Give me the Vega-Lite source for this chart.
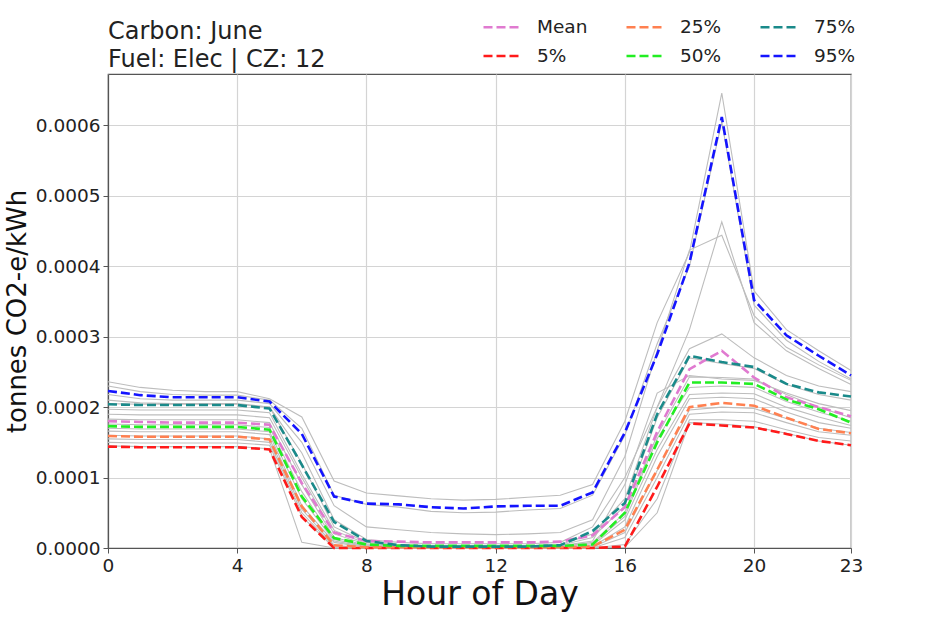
{
  "$schema": "https://vega.github.io/schema/vega-lite/v6.json",
  "autosize": {"type": "none"},
  "width": 743,
  "height": 474,
  "padding": {"left": 108, "top": 74, "right": 97, "bottom": 70},
  "background": "white",
  "config": {
    "font": "DejaVu Sans",
    "view": {"stroke": "#555555", "strokeWidth": 1.2},
    "axis": {"grid": true, "gridColor": "#d4d4d4", "gridWidth": 1.2, "domainColor": "#555555", "domainWidth": 1.2, "tickColor": "#555555", "tickSize": 5, "labelFont": "DejaVu Sans", "labelFontSize": 18.5, "labelColor": "#222222", "titleFont": "DejaVu Sans", "titleFontWeight": "normal", "titleColor": "#111111"}
  },
  "title": {"text": ["Carbon: June", "Fuel: Elec | CZ: 12"], "anchor": "start", "frame": "group", "fontSize": 24, "lineHeight": 28, "fontWeight": "normal", "font": "DejaVu Sans", "color": "#222222", "offset": 4, "dy": 68},
  "datasets": {
    "days": [
      {"d":"G1","h":0,"v":0.000236},{"d":"G1","h":1,"v":0.000228},{"d":"G1","h":2,"v":0.000224},{"d":"G1","h":3,"v":0.000222},{"d":"G1","h":4,"v":0.000222},{"d":"G1","h":5,"v":0.000212},{"d":"G1","h":6,"v":0.000186},{"d":"G1","h":7,"v":0.000095},{"d":"G1","h":8,"v":0.000078},{"d":"G1","h":9,"v":0.000074},{"d":"G1","h":10,"v":0.00007},{"d":"G1","h":11,"v":0.000068},{"d":"G1","h":12,"v":0.000069},{"d":"G1","h":13,"v":0.000072},{"d":"G1","h":14,"v":0.000075},{"d":"G1","h":15,"v":0.00009},{"d":"G1","h":16,"v":0.00018},{"d":"G1","h":17,"v":0.00032},{"d":"G1","h":18,"v":0.00042},{"d":"G1","h":19,"v":0.000646},{"d":"G1","h":20,"v":0.000365},{"d":"G1","h":21,"v":0.00031},{"d":"G1","h":22,"v":0.00028},{"d":"G1","h":23,"v":0.000252},
      {"d":"G2","h":0,"v":0.00023},{"d":"G2","h":1,"v":0.000222},{"d":"G2","h":2,"v":0.000218},{"d":"G2","h":3,"v":0.000217},{"d":"G2","h":4,"v":0.000217},{"d":"G2","h":5,"v":0.00021},{"d":"G2","h":6,"v":0.00017},{"d":"G2","h":7,"v":0.000075},{"d":"G2","h":8,"v":0.000062},{"d":"G2","h":9,"v":0.000058},{"d":"G2","h":10,"v":0.000052},{"d":"G2","h":11,"v":0.00005},{"d":"G2","h":12,"v":0.000051},{"d":"G2","h":13,"v":0.000054},{"d":"G2","h":14,"v":0.000056},{"d":"G2","h":15,"v":0.000075},{"d":"G2","h":16,"v":0.00016},{"d":"G2","h":17,"v":0.00029},{"d":"G2","h":18,"v":0.0004},{"d":"G2","h":19,"v":0.000605},{"d":"G2","h":20,"v":0.000345},{"d":"G2","h":21,"v":0.000295},{"d":"G2","h":22,"v":0.000265},{"d":"G2","h":23,"v":0.00024},
      {"d":"G3","h":0,"v":0.000218},{"d":"G3","h":1,"v":0.000212},{"d":"G3","h":2,"v":0.00021},{"d":"G3","h":3,"v":0.00021},{"d":"G3","h":4,"v":0.00021},{"d":"G3","h":5,"v":0.000205},{"d":"G3","h":6,"v":0.00015},{"d":"G3","h":7,"v":0.00006},{"d":"G3","h":8,"v":0.00003},{"d":"G3","h":9,"v":0.000026},{"d":"G3","h":10,"v":0.000022},{"d":"G3","h":11,"v":0.00002},{"d":"G3","h":12,"v":0.000019},{"d":"G3","h":13,"v":0.00002},{"d":"G3","h":14,"v":0.000022},{"d":"G3","h":15,"v":0.00004},{"d":"G3","h":16,"v":0.00013},{"d":"G3","h":17,"v":0.00028},{"d":"G3","h":18,"v":0.000423},{"d":"G3","h":19,"v":0.000444},{"d":"G3","h":20,"v":0.00033},{"d":"G3","h":21,"v":0.000285},{"d":"G3","h":22,"v":0.00026},{"d":"G3","h":23,"v":0.000238},
      {"d":"G4","h":0,"v":0.00021},{"d":"G4","h":1,"v":0.000206},{"d":"G4","h":2,"v":0.000205},{"d":"G4","h":3,"v":0.000205},{"d":"G4","h":4,"v":0.000205},{"d":"G4","h":5,"v":0.0002},{"d":"G4","h":6,"v":0.000135},{"d":"G4","h":7,"v":0.00004},{"d":"G4","h":8,"v":0.000012},{"d":"G4","h":9,"v":0.000008},{"d":"G4","h":10,"v":0.000006},{"d":"G4","h":11,"v":0.000006},{"d":"G4","h":12,"v":0.000006},{"d":"G4","h":13,"v":0.000006},{"d":"G4","h":14,"v":0.000008},{"d":"G4","h":15,"v":0.00003},{"d":"G4","h":16,"v":0.0001},{"d":"G4","h":17,"v":0.0002},{"d":"G4","h":18,"v":0.00031},{"d":"G4","h":19,"v":0.000463},{"d":"G4","h":20,"v":0.00032},{"d":"G4","h":21,"v":0.00028},{"d":"G4","h":22,"v":0.000255},{"d":"G4","h":23,"v":0.000232},
      {"d":"G5","h":0,"v":0.000205},{"d":"G5","h":1,"v":0.000204},{"d":"G5","h":2,"v":0.000204},{"d":"G5","h":3,"v":0.000204},{"d":"G5","h":4,"v":0.000204},{"d":"G5","h":5,"v":0.0002},{"d":"G5","h":6,"v":0.00012},{"d":"G5","h":7,"v":0.00003},{"d":"G5","h":8,"v":0.000008},{"d":"G5","h":9,"v":0.000005},{"d":"G5","h":10,"v":0.000003},{"d":"G5","h":11,"v":0.000003},{"d":"G5","h":12,"v":0.000003},{"d":"G5","h":13,"v":0.000003},{"d":"G5","h":14,"v":0.000005},{"d":"G5","h":15,"v":0.00002},{"d":"G5","h":16,"v":0.00007},{"d":"G5","h":17,"v":0.0002},{"d":"G5","h":18,"v":0.000283},{"d":"G5","h":19,"v":0.000304},{"d":"G5","h":20,"v":0.00027},{"d":"G5","h":21,"v":0.000245},{"d":"G5","h":22,"v":0.00023},{"d":"G5","h":23,"v":0.000222},
      {"d":"G6","h":0,"v":0.000197},{"d":"G6","h":1,"v":0.000196},{"d":"G6","h":2,"v":0.000196},{"d":"G6","h":3,"v":0.000196},{"d":"G6","h":4,"v":0.000196},{"d":"G6","h":5,"v":0.000192},{"d":"G6","h":6,"v":0.000105},{"d":"G6","h":7,"v":0.000025},{"d":"G6","h":8,"v":0.000006},{"d":"G6","h":9,"v":0.000004},{"d":"G6","h":10,"v":0.000003},{"d":"G6","h":11,"v":0.000003},{"d":"G6","h":12,"v":0.000003},{"d":"G6","h":13,"v":0.000003},{"d":"G6","h":14,"v":0.000004},{"d":"G6","h":15,"v":0.000015},{"d":"G6","h":16,"v":0.00006},{"d":"G6","h":17,"v":0.000185},{"d":"G6","h":18,"v":0.00027},{"d":"G6","h":19,"v":0.000262},{"d":"G6","h":20,"v":0.000255},{"d":"G6","h":21,"v":0.000232},{"d":"G6","h":22,"v":0.000218},{"d":"G6","h":23,"v":0.00021},
      {"d":"G7","h":0,"v":0.00019},{"d":"G7","h":1,"v":0.000189},{"d":"G7","h":2,"v":0.000189},{"d":"G7","h":3,"v":0.000189},{"d":"G7","h":4,"v":0.000189},{"d":"G7","h":5,"v":0.000185},{"d":"G7","h":6,"v":0.0001},{"d":"G7","h":7,"v":0.00002},{"d":"G7","h":8,"v":0.000005},{"d":"G7","h":9,"v":0.000003},{"d":"G7","h":10,"v":0.000002},{"d":"G7","h":11,"v":0.000002},{"d":"G7","h":12,"v":0.000002},{"d":"G7","h":13,"v":0.000002},{"d":"G7","h":14,"v":0.000003},{"d":"G7","h":15,"v":0.00001},{"d":"G7","h":16,"v":0.00009},{"d":"G7","h":17,"v":0.00022},{"d":"G7","h":18,"v":0.000245},{"d":"G7","h":19,"v":0.00024},{"d":"G7","h":20,"v":0.000238},{"d":"G7","h":21,"v":0.00022},{"d":"G7","h":22,"v":0.000205},{"d":"G7","h":23,"v":0.000195},
      {"d":"G8","h":0,"v":0.000183},{"d":"G8","h":1,"v":0.000182},{"d":"G8","h":2,"v":0.000182},{"d":"G8","h":3,"v":0.000182},{"d":"G8","h":4,"v":0.000182},{"d":"G8","h":5,"v":0.000178},{"d":"G8","h":6,"v":0.00009},{"d":"G8","h":7,"v":0.000015},{"d":"G8","h":8,"v":0.000004},{"d":"G8","h":9,"v":0.000002},{"d":"G8","h":10,"v":0.000002},{"d":"G8","h":11,"v":0.000002},{"d":"G8","h":12,"v":0.000002},{"d":"G8","h":13,"v":0.000002},{"d":"G8","h":14,"v":0.000002},{"d":"G8","h":15,"v":0.000008},{"d":"G8","h":16,"v":0.00005},{"d":"G8","h":17,"v":0.00016},{"d":"G8","h":18,"v":0.000243},{"d":"G8","h":19,"v":0.000242},{"d":"G8","h":20,"v":0.00024},{"d":"G8","h":21,"v":0.000218},{"d":"G8","h":22,"v":0.0002},{"d":"G8","h":23,"v":0.000185},
      {"d":"G9","h":0,"v":0.000176},{"d":"G9","h":1,"v":0.000175},{"d":"G9","h":2,"v":0.000175},{"d":"G9","h":3,"v":0.000175},{"d":"G9","h":4,"v":0.000175},{"d":"G9","h":5,"v":0.000171},{"d":"G9","h":6,"v":0.00008},{"d":"G9","h":7,"v":0.000012},{"d":"G9","h":8,"v":0.000003},{"d":"G9","h":9,"v":0.000002},{"d":"G9","h":10,"v":0.000001},{"d":"G9","h":11,"v":0.000001},{"d":"G9","h":12,"v":0.000001},{"d":"G9","h":13,"v":0.000001},{"d":"G9","h":14,"v":0.000002},{"d":"G9","h":15,"v":0.000006},{"d":"G9","h":16,"v":0.000045},{"d":"G9","h":17,"v":0.000155},{"d":"G9","h":18,"v":0.000228},{"d":"G9","h":19,"v":0.00023},{"d":"G9","h":20,"v":0.000228},{"d":"G9","h":21,"v":0.000208},{"d":"G9","h":22,"v":0.000193},{"d":"G9","h":23,"v":0.00018},
      {"d":"G10","h":0,"v":0.00017},{"d":"G10","h":1,"v":0.000169},{"d":"G10","h":2,"v":0.000169},{"d":"G10","h":3,"v":0.000169},{"d":"G10","h":4,"v":0.000169},{"d":"G10","h":5,"v":0.000165},{"d":"G10","h":6,"v":0.00007},{"d":"G10","h":7,"v":0.00001},{"d":"G10","h":8,"v":0.000002},{"d":"G10","h":9,"v":0.000001},{"d":"G10","h":10,"v":0.000001},{"d":"G10","h":11,"v":0.000001},{"d":"G10","h":12,"v":0.000001},{"d":"G10","h":13,"v":0.000001},{"d":"G10","h":14,"v":0.000001},{"d":"G10","h":15,"v":0.000004},{"d":"G10","h":16,"v":0.00004},{"d":"G10","h":17,"v":0.00014},{"d":"G10","h":18,"v":0.000218},{"d":"G10","h":19,"v":0.00022},{"d":"G10","h":20,"v":0.000219},{"d":"G10","h":21,"v":0.0002},{"d":"G10","h":22,"v":0.000186},{"d":"G10","h":23,"v":0.000174},
      {"d":"G11","h":0,"v":0.000166},{"d":"G11","h":1,"v":0.000165},{"d":"G11","h":2,"v":0.000165},{"d":"G11","h":3,"v":0.000165},{"d":"G11","h":4,"v":0.000165},{"d":"G11","h":5,"v":0.000161},{"d":"G11","h":6,"v":0.00006},{"d":"G11","h":7,"v":0.000008},{"d":"G11","h":8,"v":0.000001},{"d":"G11","h":9,"v":0},{"d":"G11","h":10,"v":0},{"d":"G11","h":11,"v":0},{"d":"G11","h":12,"v":0},{"d":"G11","h":13,"v":0},{"d":"G11","h":14,"v":0},{"d":"G11","h":15,"v":0.000002},{"d":"G11","h":16,"v":0.00003},{"d":"G11","h":17,"v":0.00013},{"d":"G11","h":18,"v":0.000212},{"d":"G11","h":19,"v":0.000214},{"d":"G11","h":20,"v":0.000212},{"d":"G11","h":21,"v":0.000193},{"d":"G11","h":22,"v":0.000178},{"d":"G11","h":23,"v":0.00017},
      {"d":"G12","h":0,"v":0.00016},{"d":"G12","h":1,"v":0.000159},{"d":"G12","h":2,"v":0.000159},{"d":"G12","h":3,"v":0.000159},{"d":"G12","h":4,"v":0.000159},{"d":"G12","h":5,"v":0.000155},{"d":"G12","h":6,"v":0.000055},{"d":"G12","h":7,"v":0.000004},{"d":"G12","h":8,"v":0},{"d":"G12","h":9,"v":0},{"d":"G12","h":10,"v":0},{"d":"G12","h":11,"v":0},{"d":"G12","h":12,"v":0},{"d":"G12","h":13,"v":0},{"d":"G12","h":14,"v":0},{"d":"G12","h":15,"v":0.000001},{"d":"G12","h":16,"v":0.000022},{"d":"G12","h":17,"v":0.00011},{"d":"G12","h":18,"v":0.000196},{"d":"G12","h":19,"v":0.0002},{"d":"G12","h":20,"v":0.000198},{"d":"G12","h":21,"v":0.000184},{"d":"G12","h":22,"v":0.00017},{"d":"G12","h":23,"v":0.000164},
      {"d":"G13","h":0,"v":0.000155},{"d":"G13","h":1,"v":0.000154},{"d":"G13","h":2,"v":0.000154},{"d":"G13","h":3,"v":0.000154},{"d":"G13","h":4,"v":0.000154},{"d":"G13","h":5,"v":0.00015},{"d":"G13","h":6,"v":0.00005},{"d":"G13","h":7,"v":0.000002},{"d":"G13","h":8,"v":0},{"d":"G13","h":9,"v":0},{"d":"G13","h":10,"v":0},{"d":"G13","h":11,"v":0},{"d":"G13","h":12,"v":0},{"d":"G13","h":13,"v":0},{"d":"G13","h":14,"v":0},{"d":"G13","h":15,"v":0},{"d":"G13","h":16,"v":0.000015},{"d":"G13","h":17,"v":0.0001},{"d":"G13","h":18,"v":0.00019},{"d":"G13","h":19,"v":0.000193},{"d":"G13","h":20,"v":0.000192},{"d":"G13","h":21,"v":0.000178},{"d":"G13","h":22,"v":0.000165},{"d":"G13","h":23,"v":0.00016},
      {"d":"G14","h":0,"v":0.00015},{"d":"G14","h":1,"v":0.000149},{"d":"G14","h":2,"v":0.000149},{"d":"G14","h":3,"v":0.000149},{"d":"G14","h":4,"v":0.000149},{"d":"G14","h":5,"v":0.000146},{"d":"G14","h":6,"v":0.000045},{"d":"G14","h":7,"v":0},{"d":"G14","h":8,"v":0},{"d":"G14","h":9,"v":0},{"d":"G14","h":10,"v":0},{"d":"G14","h":11,"v":0},{"d":"G14","h":12,"v":0},{"d":"G14","h":13,"v":0},{"d":"G14","h":14,"v":0},{"d":"G14","h":15,"v":0},{"d":"G14","h":16,"v":0.000005},{"d":"G14","h":17,"v":0.00007},{"d":"G14","h":18,"v":0.000182},{"d":"G14","h":19,"v":0.000182},{"d":"G14","h":20,"v":0.00018},{"d":"G14","h":21,"v":0.000168},{"d":"G14","h":22,"v":0.000157},{"d":"G14","h":23,"v":0.000152},
      {"d":"G15","h":0,"v":0.000145},{"d":"G15","h":1,"v":0.000144},{"d":"G15","h":2,"v":0.000144},{"d":"G15","h":3,"v":0.000144},{"d":"G15","h":4,"v":0.000144},{"d":"G15","h":5,"v":0.000141},{"d":"G15","h":6,"v":0.000008},{"d":"G15","h":7,"v":0},{"d":"G15","h":8,"v":0},{"d":"G15","h":9,"v":0},{"d":"G15","h":10,"v":0},{"d":"G15","h":11,"v":0},{"d":"G15","h":12,"v":0},{"d":"G15","h":13,"v":0},{"d":"G15","h":14,"v":0},{"d":"G15","h":15,"v":0},{"d":"G15","h":16,"v":0.000001},{"d":"G15","h":17,"v":0.00005},{"d":"G15","h":18,"v":0.000178},{"d":"G15","h":19,"v":0.000176},{"d":"G15","h":20,"v":0.000172},{"d":"G15","h":21,"v":0.000163},{"d":"G15","h":22,"v":0.000152},{"d":"G15","h":23,"v":0.000146}
    ],
    "stats": [
      {"s":"Mean","h":0,"v":0.00018},{"s":"Mean","h":1,"v":0.000179},{"s":"Mean","h":2,"v":0.000178},{"s":"Mean","h":3,"v":0.000178},{"s":"Mean","h":4,"v":0.000178},{"s":"Mean","h":5,"v":0.000175},{"s":"Mean","h":6,"v":0.000092},{"s":"Mean","h":7,"v":0.000022},{"s":"Mean","h":8,"v":0.00001},{"s":"Mean","h":9,"v":0.000009},{"s":"Mean","h":10,"v":0.000008},{"s":"Mean","h":11,"v":0.000008},{"s":"Mean","h":12,"v":0.000008},{"s":"Mean","h":13,"v":0.000008},{"s":"Mean","h":14,"v":0.000009},{"s":"Mean","h":15,"v":0.000018},{"s":"Mean","h":16,"v":0.000058},{"s":"Mean","h":17,"v":0.000165},{"s":"Mean","h":18,"v":0.000254},{"s":"Mean","h":19,"v":0.00028},{"s":"Mean","h":20,"v":0.000242},{"s":"Mean","h":21,"v":0.000214},{"s":"Mean","h":22,"v":0.0002},{"s":"Mean","h":23,"v":0.000187},
      {"s":"5%","h":0,"v":0.000144},{"s":"5%","h":1,"v":0.000143},{"s":"5%","h":2,"v":0.000143},{"s":"5%","h":3,"v":0.000143},{"s":"5%","h":4,"v":0.000143},{"s":"5%","h":5,"v":0.00014},{"s":"5%","h":6,"v":0.000044},{"s":"5%","h":7,"v":0},{"s":"5%","h":8,"v":0},{"s":"5%","h":9,"v":0},{"s":"5%","h":10,"v":0},{"s":"5%","h":11,"v":0},{"s":"5%","h":12,"v":0},{"s":"5%","h":13,"v":0},{"s":"5%","h":14,"v":0},{"s":"5%","h":15,"v":0},{"s":"5%","h":16,"v":0.000002},{"s":"5%","h":17,"v":0.000087},{"s":"5%","h":18,"v":0.000177},{"s":"5%","h":19,"v":0.000174},{"s":"5%","h":20,"v":0.000171},{"s":"5%","h":21,"v":0.000162},{"s":"5%","h":22,"v":0.000152},{"s":"5%","h":23,"v":0.000146},
      {"s":"25%","h":0,"v":0.000159},{"s":"25%","h":1,"v":0.000158},{"s":"25%","h":2,"v":0.000158},{"s":"25%","h":3,"v":0.000158},{"s":"25%","h":4,"v":0.000158},{"s":"25%","h":5,"v":0.000154},{"s":"25%","h":6,"v":0.000059},{"s":"25%","h":7,"v":0.000004},{"s":"25%","h":8,"v":0.000001},{"s":"25%","h":9,"v":0.000001},{"s":"25%","h":10,"v":0.000001},{"s":"25%","h":11,"v":0.000001},{"s":"25%","h":12,"v":0.000001},{"s":"25%","h":13,"v":0.000001},{"s":"25%","h":14,"v":0.000001},{"s":"25%","h":15,"v":0.000002},{"s":"25%","h":16,"v":0.000026},{"s":"25%","h":17,"v":0.000111},{"s":"25%","h":18,"v":0.0002},{"s":"25%","h":19,"v":0.000206},{"s":"25%","h":20,"v":0.000202},{"s":"25%","h":21,"v":0.000185},{"s":"25%","h":22,"v":0.000169},{"s":"25%","h":23,"v":0.000163},
      {"s":"50%","h":0,"v":0.000173},{"s":"50%","h":1,"v":0.000172},{"s":"50%","h":2,"v":0.000172},{"s":"50%","h":3,"v":0.000172},{"s":"50%","h":4,"v":0.000172},{"s":"50%","h":5,"v":0.000168},{"s":"50%","h":6,"v":0.000073},{"s":"50%","h":7,"v":0.000014},{"s":"50%","h":8,"v":0.000005},{"s":"50%","h":9,"v":0.000003},{"s":"50%","h":10,"v":0.000003},{"s":"50%","h":11,"v":0.000003},{"s":"50%","h":12,"v":0.000003},{"s":"50%","h":13,"v":0.000003},{"s":"50%","h":14,"v":0.000003},{"s":"50%","h":15,"v":0.000005},{"s":"50%","h":16,"v":0.00005},{"s":"50%","h":17,"v":0.00015},{"s":"50%","h":18,"v":0.000235},{"s":"50%","h":19,"v":0.000235},{"s":"50%","h":20,"v":0.000233},{"s":"50%","h":21,"v":0.000211},{"s":"50%","h":22,"v":0.000197},{"s":"50%","h":23,"v":0.000178},
      {"s":"75%","h":0,"v":0.000204},{"s":"75%","h":1,"v":0.000203},{"s":"75%","h":2,"v":0.000203},{"s":"75%","h":3,"v":0.000203},{"s":"75%","h":4,"v":0.000203},{"s":"75%","h":5,"v":0.000198},{"s":"75%","h":6,"v":0.000118},{"s":"75%","h":7,"v":0.000037},{"s":"75%","h":8,"v":0.00001},{"s":"75%","h":9,"v":0.000004},{"s":"75%","h":10,"v":0.000002},{"s":"75%","h":11,"v":0.000002},{"s":"75%","h":12,"v":0.000002},{"s":"75%","h":13,"v":0.000002},{"s":"75%","h":14,"v":0.000004},{"s":"75%","h":15,"v":0.000024},{"s":"75%","h":16,"v":0.000064},{"s":"75%","h":17,"v":0.00019},{"s":"75%","h":18,"v":0.000273},{"s":"75%","h":19,"v":0.000264},{"s":"75%","h":20,"v":0.000257},{"s":"75%","h":21,"v":0.000233},{"s":"75%","h":22,"v":0.000221},{"s":"75%","h":23,"v":0.000215},
      {"s":"95%","h":0,"v":0.000223},{"s":"95%","h":1,"v":0.000217},{"s":"95%","h":2,"v":0.000214},{"s":"95%","h":3,"v":0.000214},{"s":"95%","h":4,"v":0.000214},{"s":"95%","h":5,"v":0.000208},{"s":"95%","h":6,"v":0.000162},{"s":"95%","h":7,"v":0.000073},{"s":"95%","h":8,"v":0.000063},{"s":"95%","h":9,"v":0.000062},{"s":"95%","h":10,"v":0.000058},{"s":"95%","h":11,"v":0.000056},{"s":"95%","h":12,"v":0.000059},{"s":"95%","h":13,"v":0.00006},{"s":"95%","h":14,"v":0.00006},{"s":"95%","h":15,"v":0.000079},{"s":"95%","h":16,"v":0.000164},{"s":"95%","h":17,"v":0.000275},{"s":"95%","h":18,"v":0.000405},{"s":"95%","h":19,"v":0.000612},{"s":"95%","h":20,"v":0.000352},{"s":"95%","h":21,"v":0.000302},{"s":"95%","h":22,"v":0.000273},{"s":"95%","h":23,"v":0.000245}
    ]
  },
  "encoding": {
    "x": {"field": "h", "type": "quantitative", "scale": {"domain": [0, 23], "nice": false, "zero": false}, "axis": {"values": [0, 4, 8, 12, 16, 20, 23], "title": "Hour of Day", "titleFontSize": 33, "titlePadding": 4, "labelPadding": 3, "labelFlush": false}},
    "y": {"field": "v", "type": "quantitative", "scale": {"domain": [0, 0.000673], "nice": false}, "axis": {"values": [0, 0.0001, 0.0002, 0.0003, 0.0004, 0.0005, 0.0006], "format": ".4f", "title": "tonnes CO2-e/kWh", "titleFontSize": 26, "titlePadding": 5, "labelPadding": 3}}
  },
  "layer": [
    {
      "data": {"name": "days"},
      "mark": {"type": "line", "color": "#bdbdbd", "strokeWidth": 1.1},
      "encoding": {"detail": {"field": "d", "type": "nominal"}}
    },
    {
      "data": {"name": "stats"},
      "mark": {"type": "line", "strokeWidth": 2.6, "strokeDash": [9, 4]},
      "encoding": {
        "color": {
          "field": "s", "type": "nominal",
          "scale": {"domain": ["Mean", "25%", "75%", "5%", "50%", "95%"], "range": ["#e07ad0", "#ff8050", "#1a8a8a", "#ff1a1a", "#22ee22", "#1414ff"]},
          "legend": {"title": null, "orient": "none", "legendX": 374, "legendY": -66, "direction": "horizontal", "columns": 3, "symbolType": "stroke", "symbolSize": 1225, "symbolStrokeWidth": 2.6, "symbolDash": [9, 4], "labelFontSize": 18.5, "labelFont": "DejaVu Sans", "labelColor": "#222222", "labelOffset": 17, "columnPadding": 33, "rowPadding": -7, "padding": 0}
        }
      }
    }
  ]
}
